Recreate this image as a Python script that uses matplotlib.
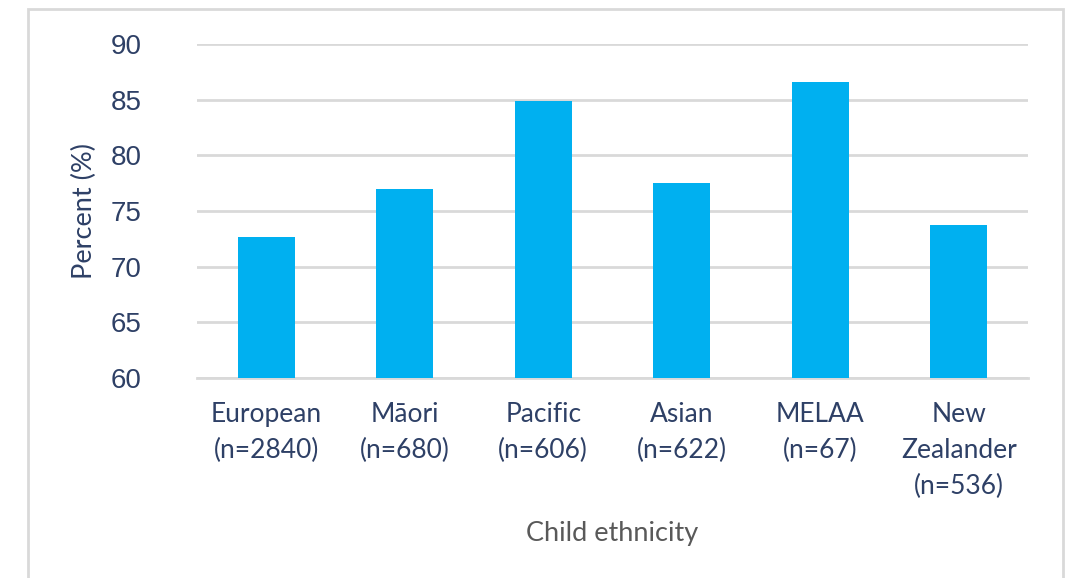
import matplotlib.pyplot as plt
from matplotlib.patches import Rectangle

# data
categories = ["European\n(n=2840)", "Māori\n(n=680)", "Pacific\n(n=606)",
              "Asian\n(n=622)", "MELAA\n(n=67)", "New\nZealander\n(n=536)"]
percent = [72.7, 77.0, 84.9, 77.5, 86.6, 73.7]
y_ticks = [60, 65, 70, 75, 80, 85, 90]

navy = "#2E4066"
grid_col = "#D9D9D9"

fig = plt.figure(figsize=(10.72, 5.78), dpi=100)
ax = fig.add_axes([197 / 1072, 1 - 378 / 578, 831 / 1072, 334 / 578])

# outer chart border (bottom edge falls outside the image)
fig.patches.append(Rectangle((28 / 1072, -0.05), 1035 / 1072, 1 - 9 / 578 + 0.05,
                             transform=fig.transFigure, fill=False,
                             edgecolor=grid_col, linewidth=2))

x = range(len(categories))
ax.bar(x, percent, width=0.41, color="#00B0F0", zorder=3)

ax.set_xlim(-0.5, len(categories) - 0.5)
ax.set_ylim(60, 90)
ax.set_yticks(y_ticks)
ax.set_yticklabels([str(t) for t in y_ticks], fontsize=20,
                   family="Liberation Sans", color=navy)
ax.set_xticks(list(x))
ax.set_xticklabels(categories, fontsize=19, family="Lato", color=navy,
                   linespacing=1.55, va="top")
ax.tick_params(axis="y", length=0, pad=40)
ax.tick_params(axis="x", length=0, pad=17)

ax.grid(axis="y", color=grid_col, linewidth=2, zorder=0)
for side in ["top", "right", "left"]:
    ax.spines[side].set_visible(False)
ax.spines["bottom"].set_color(grid_col)
ax.spines["bottom"].set_linewidth(2)

ax.set_ylabel("Percent (%)", fontsize=19.5, family="Lato", color=navy, labelpad=10)
ax.set_xlabel("Child ethnicity", fontsize=19.5, family="Lato", color="#595959", labelpad=16)

fig.savefig("out.png", dpi=100)
